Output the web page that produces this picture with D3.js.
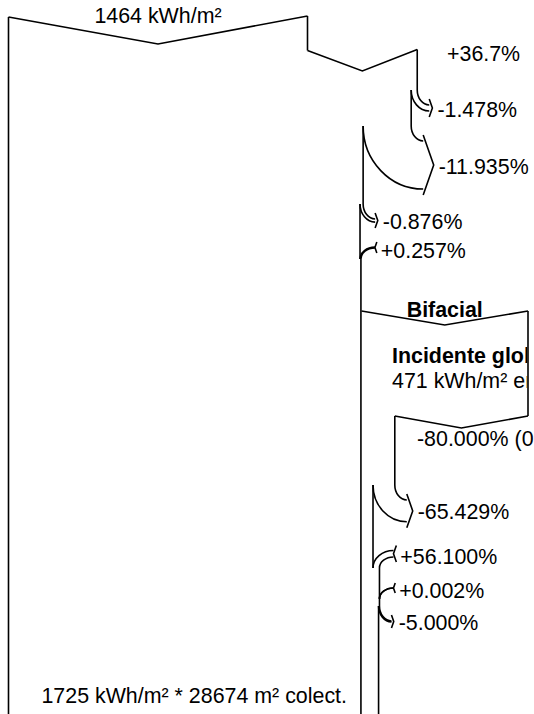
<!DOCTYPE html>
<html>
<head>
<meta charset="utf-8">
<script src="https://cdn.jsdelivr.net/npm/d3@7"></script>
<style>
  html, body { margin: 0; padding: 0; background: #fff; }
  svg { display: block; }
  text { font-family: "Liberation Sans", Arial, sans-serif; font-size: 21.4px; fill: #000; }
</style>
</head>
<body>
<script>
// ---------------- data ----------------
const horizontalGlobal = 1464;                       // kWh/m²
const mainChanges = [36.7, -1.478, -11.935, -0.876, 0.257];   // %
const mainChangeLabels = ["+36.7%", "-1.478%", "-11.935%", "-0.876%", "+0.257%"];
const collectorIrradiance = 1725;                    // kWh/m²
const collectorArea = 28674;                         // m²
const rearIncident = 471;                            // kWh/m²
const rearChanges = [-80.0, -65.429, 56.1, 0.002, -5.0];       // %
const rearChangeLabels = ["-80.000% (0", "-65.429%", "+56.100%", "+0.002%", "-5.000%"];
const rearTitles = ["Bifacial", "Incidente global", "471 kWh/m² en"];

// ---------------- layout ----------------
const W = 534, H = 714;
const svg = d3.select("body").append("svg").attr("width", W).attr("height", H);
const lines = svg.append("g").attr("fill", "none").attr("stroke", "#000")
  .attr("stroke-width", 1.6).attr("stroke-linejoin", "miter");
const texts = svg.append("g");

const xMain = d3.scaleLinear().domain([0, horizontalGlobal]).range([8.5, 307.5]);
const wMain = v => xMain(v) - xMain(0);
const xRear = d3.scaleLinear().domain([0, rearIncident]).range([361.5, 528]);
const wRear = v => xRear(v) - xRear(0);

const mainEventY = [null, 90, 126, 204, 259];
const rearEventY = [416, 485, 568, 599, 606];

function vline(x, y1, y2) {
  lines.append("path").attr("d", `M${x},${y1}V${y2}`);
}
function vTop(xl, xr, yl, yr, dip) {
  lines.append("path").attr("d", `M${xl},${yl}L${(xl + xr) / 2},${Math.max(yl, yr) + dip}L${xr},${yr}`);
}
function lossArrow(xo, y0, w, label) {
  const rx = 12, ry = 15, cx = xo + rx;
  lines.append("path").attr("d", `M${xo},${y0}A${rx},${ry} 0 0 0 ${cx},${y0 + ry}`);
  lines.append("path").attr("d", `M${xo - w},${y0}A${rx + w},${ry + w} 0 0 0 ${cx},${y0 + ry + w}`);
  const top = y0 + ry - 6, bot = y0 + ry + w + 6, mid = (top + bot) / 2;
  const tip = cx + 0.35 * (bot - top) / 2;
  lines.append("path").attr("d", `M${cx},${top}L${tip},${mid}L${cx},${bot}`);
  texts.append("text").attr("x", tip + 5).attr("y", mid + 8.5).text(label);
}
function gainArrow(xo, y0, w, label) {
  const rx = 14, ry = 11, xn = xo + w, cx = xn + rx;
  lines.append("path").attr("d", `M${xn},${y0}A${rx},${ry} 0 0 1 ${cx},${y0 - ry}`);
  lines.append("path").attr("d", `M${xo},${y0}A${rx + w},${ry + w} 0 0 1 ${cx},${y0 - ry - w}`);
  const top = y0 - ry - w - 5, bot = y0 - ry + 5, mid = (top + bot) / 2;
  const d = 0.35 * (bot - top) / 2;
  lines.append("path").attr("d", `M${cx + d},${top}L${cx},${mid}L${cx + d},${bot}`);
  texts.append("text").attr("x", cx + d + 4).attr("y", mid + 10).text(label);
}

// ---------------- main flow ----------------
let e = horizontalGlobal;
let right = xMain(e);
const left = xMain(0);
vTop(left, right, 17, 16, 27);
vline(left, 17, H + 5);
texts.append("text").attr("x", (left + right) / 2).attr("y", 23)
  .attr("text-anchor", "middle").text(`${horizontalGlobal} kWh/m²`);

// first gain: transposition box on top
vline(right, 16, 50.5);
let e1 = e * (1 + mainChanges[0] / 100);
let right1 = xMain(e1);
vTop(right, right1, 50.5, 49.5, 20.5);
texts.append("text").attr("x", 447).attr("y", 61).text(mainChangeLabels[0]);
e = e1; right = right1;
let prevY = 49.5;

for (let i = 1; i < mainChanges.length; i++) {
  const y0 = mainEventY[i];
  const f = mainChanges[i];
  const w = wMain(e) * Math.abs(f) / 100;
  vline(right, prevY, y0);
  if (f < 0) { lossArrow(right, y0, w, mainChangeLabels[i]); right -= w; }
  else { gainArrow(right, y0, w, mainChangeLabels[i]); right += w; }
  e = e * (1 + f / 100);
  prevY = y0;
}
vline(right, prevY, H + 5);

texts.append("text").attr("x", 347).attr("y", 703).attr("text-anchor", "end")
  .text(`${collectorIrradiance} kWh/m² * ${collectorArea} m² colect.`);

// ---------------- rear (bifacial) flow ----------------
let eb = rearIncident;
let rr = xRear(eb);
const rl = xRear(0);
vTop(rl, rr, 311, 311, 14);
texts.append("text").attr("x", (rl + rr) / 2).attr("y", 317)
  .attr("text-anchor", "middle").attr("font-weight", "bold").text(rearTitles[0]);

svg.append("clipPath").attr("id", "rearClip").append("rect")
  .attr("x", rl).attr("y", 330).attr("width", rr - rl - 0.8).attr("height", 70);
const clipped = texts.append("g").attr("clip-path", "url(#rearClip)");
clipped.append("text").attr("x", 392).attr("y", 363).attr("font-weight", "bold").text(rearTitles[1]);
clipped.append("text").attr("x", 392).attr("y", 387.5).text(rearTitles[2]);

vline(rr, 311, rearEventY[0]);
// -80% : remaining flow keeps the left part, the removed part is shown as a box
{
  const w = wRear(eb) * Math.abs(rearChanges[0]) / 100;
  const nr = rr - w;
  vTop(nr, rr, 416, 416, 12);
  texts.append("text").attr("x", 417).attr("y", 446).text(rearChangeLabels[0]);
  rr = nr;
  eb = eb * (1 + rearChanges[0] / 100);
}
let pY = rearEventY[0];
for (let i = 1; i < rearChanges.length; i++) {
  const y0 = rearEventY[i];
  const f = rearChanges[i];
  const w = wRear(eb) * Math.abs(f) / 100;
  vline(rr, pY, y0);
  if (f < 0) { lossArrow(rr, y0, w, rearChangeLabels[i]); rr -= w; }
  else { gainArrow(rr, y0, w, rearChangeLabels[i]); rr += w; }
  eb = eb * (1 + f / 100);
  pY = y0;
}
vline(rr, pY, H + 5);
</script>
</body>
</html>
